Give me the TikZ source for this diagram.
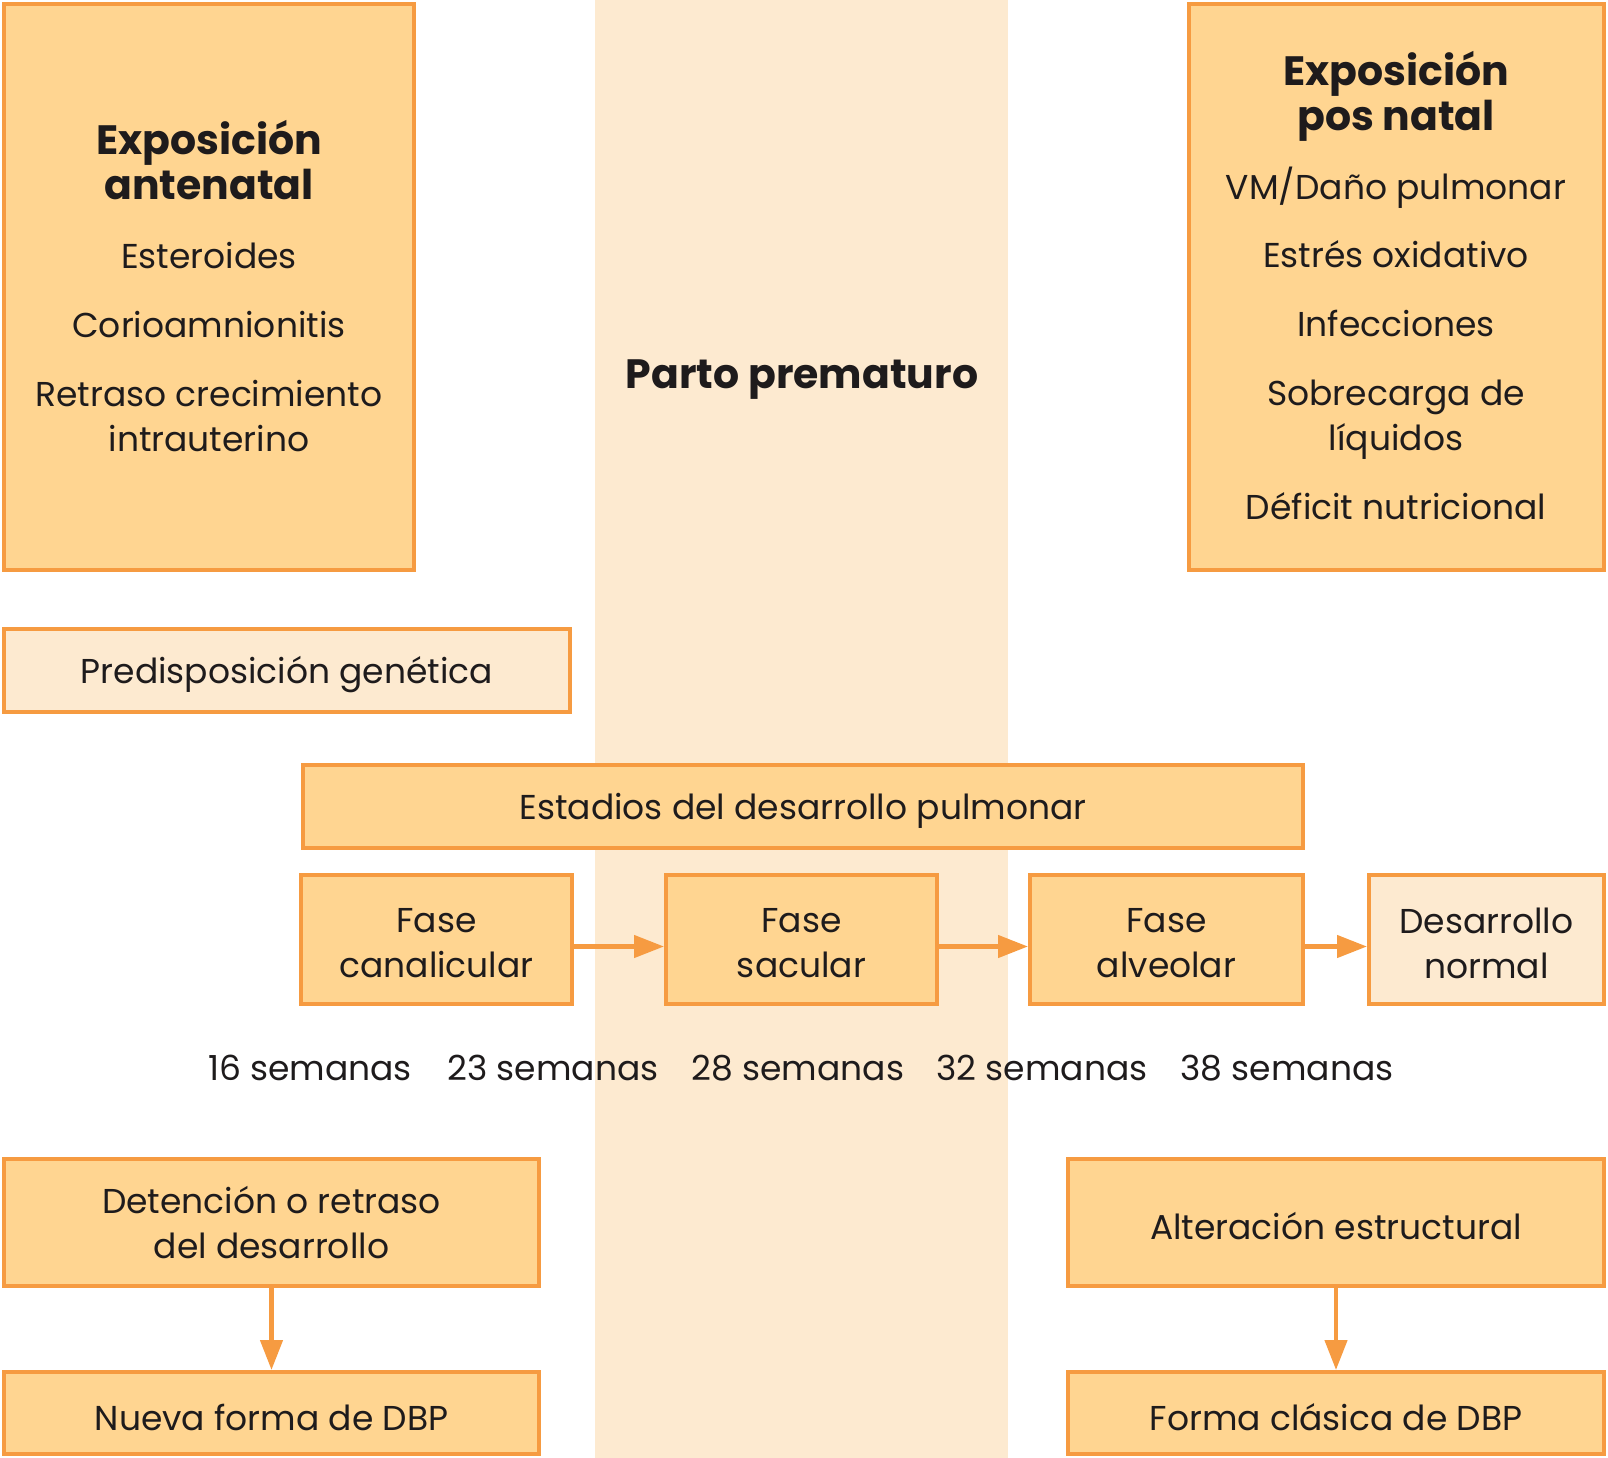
\documentclass[tikz,border=0pt]{standalone}
\usepackage{fontspec}
\setmainfont{Poppins}
\usetikzlibrary{arrows.meta}
\definecolor{peach}{HTML}{FFD591}
\definecolor{edge}{HTML}{F69B41}
\definecolor{pale}{HTML}{FDEAD0}
\definecolor{ink}{HTML}{1E1B1C}
\newcommand{\txt}{\fontsize{34.5}{45}\selectfont}
\newcommand{\ttl}{\fontsize{41}{46}\selectfont\bfseries}
\newcommand{\tl}[1]{{\ttl #1}}
\tikzset{
  box/.style={draw=edge, line width=4, fill=peach, inner sep=0},
  lightbox/.style={box, fill=pale},
  lbl/.style={text=ink, font=\txt, inner sep=0, align=center},
  btxt/.style={label={[lbl, yshift=-4]center:#1}},
  btxtup/.style={label={[lbl, yshift=0]center:#1}},
  arr/.style={draw=edge, line width=4.5, -{Triangle[length=30, width=22]}},
}
\begin{document}
\begin{tikzpicture}[x=1pt, y=-1pt]
\useasboundingbox (0,0) rectangle (1608,1458);
% central band
\node[fill=pale, minimum width=413, minimum height=1458, inner sep=0] (band) at (801.5,729) {};
\node[lbl, font=\ttl] (parto) at (802,380) {Parto prematuro};
% top boxes
\node[box, minimum width=410, minimum height=566] (ante) at (209,287) {};
\node[lbl] (antetxt) at (209,286) {\tl{Exposición}\\\tl{antenatal}\\[24pt]
  Esteroides\\[24pt]Corioamnionitis\\[24pt]Retraso crecimiento\\intrauterino};
\node[box, minimum width=415, minimum height=566] (post) at (1396.5,287) {};
\node[lbl] (posttxt) at (1396,286) {\tl{Exposición}\\\tl{pos natal}\\[24pt]
  VM/Daño pulmonar\\[23pt]Estrés oxidativo\\[24pt]Infecciones\\[24pt]Sobrecarga de\\líquidos\\[24pt]Déficit nutricional};
% middle
\node[lightbox, minimum width=566, minimum height=83, btxt={Predisposición genética}] (pred) at (287,670.5) {};
\node[box, minimum width=1000, minimum height=83, btxt={Estadios del desarrollo pulmonar}] (est) at (803,806.5) {};
\node[box, minimum width=271, minimum height=129, btxt={Fase\\canalicular}] (fc) at (436.5,939.5) {};
\node[box, minimum width=271, minimum height=129, btxt={Fase\\sacular}] (fs) at (801.5,939.5) {};
\node[box, minimum width=273, minimum height=129, btxt={Fase\\alveolar}] (fa) at (1166.5,939.5) {};
\node[lightbox, minimum width=235, minimum height=129, btxt={Desarrollo\\normal}] (dn) at (1486.5,939.5) {};
\draw[arr] ([yshift=-7]fc.east) -- ([yshift=-7]fs.west);
\draw[arr] ([yshift=-7]fs.east) -- ([yshift=-7]fa.west);
\draw[arr] ([yshift=-7]fa.east) -- ([yshift=-7]dn.west);
% weeks
\node[lbl] (w16) at (310,1068) {16 semanas};
\node[lbl] (w23) at (553,1068) {23 semanas};
\node[lbl] (w28) at (798,1068) {28 semanas};
\node[lbl] (w32) at (1042,1068) {32 semanas};
\node[lbl] (w38) at (1287,1068) {38 semanas};
% bottom
\node[box, minimum width=535, minimum height=127, btxtup={Detención o retraso\\del desarrollo}] (det) at (271.5,1222.5) {};
\node[box, minimum width=535, minimum height=82, btxt={Nueva forma de DBP}] (nueva) at (271.5,1413) {};
\node[box, minimum width=536, minimum height=127, btxt={Alteración estructural}] (alt) at (1336,1222.5) {};
\node[box, minimum width=536, minimum height=82, btxt={Forma clásica de DBP}] (clas) at (1336,1413) {};
\draw[arr] (det) -- (nueva);
\draw[arr] (alt) -- (clas);
\end{tikzpicture}
\end{document}
